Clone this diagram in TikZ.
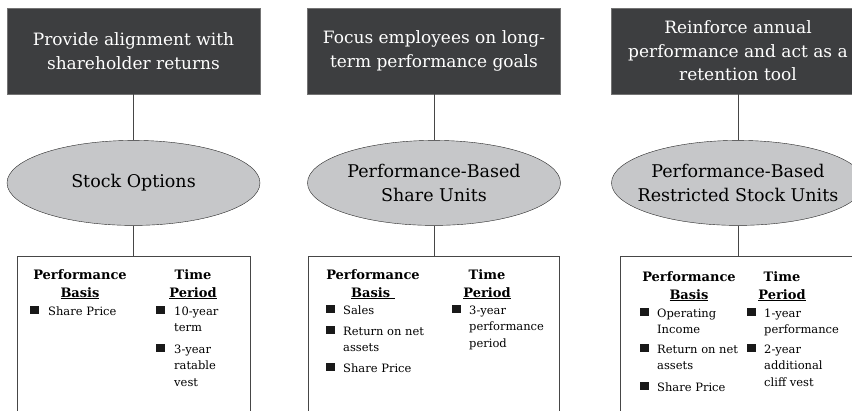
\documentclass[tikz,border=0pt]{standalone}
\usepackage{fontspec}
\setmainfont{DejaVu Serif}
\usetikzlibrary{positioning, shapes.geometric}

\definecolor{goalgray}{RGB}{61,62,64}
\definecolor{goaledge}{RGB}{115,115,115}
\definecolor{plangray}{RGB}{198,199,201}
\definecolor{linegray}{RGB}{70,70,70}

% stacked lines whose baseline is the first line
\newcommand{\headlines}[1]{\begin{tabular}[t]{@{}c@{}}#1\end{tabular}}
\newcommand{\itemlines}[1]{\begin{tabular}[t]{@{}l@{}}#1\end{tabular}}

\begin{document}
\begin{tikzpicture}[x=1pt, y=1pt]
	\tikzset{node distance=46pt,
		goal/.style={rectangle, draw=goaledge, fill=goalgray, text=white, minimum width=253pt, minimum height=86pt, align=center, font=\fontsize{17}{23.5}\selectfont},
		plan/.style={ellipse, draw=black!85, fill=plangray, inner xsep=-20pt, inner ysep=0pt, minimum width=253pt, minimum height=85pt, align=center, font=\fontsize{17.5}{23.5}\selectfont},
		detail/.style={rectangle, draw=linegray, minimum height=200pt},
		head/.style={anchor=base, inner sep=0pt, font=\fontsize{13}{18}\selectfont\bfseries},
		item/.style={anchor=base west, inner sep=0pt, font=\fontsize{11.5}{16.5}\selectfont},
		bullet/.style={rectangle, fill=black!90, inner sep=0pt, minimum size=8.5pt}
	}
	\useasboundingbox (0,0) rectangle (852,-410);
	\clip (0,0) rectangle (852,-410);

	\node[goal] (goal1) at (133.5,-51) {Provide alignment with\\shareholder returns};
	\node[goal] (goal2) at (434,-51) {Focus employees on long-\\term performance goals};
	\node[goal] (goal3) at (738,-51) {Reinforce annual\\performance and act as a\\retention tool};

	\node[plan, below=46pt of goal1] (plan1) {Stock Options};
	\node[plan, below=46pt of goal2] (plan2) {Performance-Based\\Share Units};
	\node[plan, below=46pt of goal3] (plan3) {Performance-Based\\Restricted Stock Units};

	\node[detail, minimum width=233pt, below=30pt of plan1] (detail1) {};
	\node[detail, minimum width=251pt, below=30pt of plan2] (detail2) {};
	\node[detail, minimum width=236pt, below=30pt of plan3] (detail3) {};

	\draw[linegray] (goal1) -- (plan1) -- (detail1);
	\draw[linegray] (goal2) -- (plan2) -- (detail2);
	\draw[linegray] (goal3) -- (plan3) -- (detail3);

	% stock options
	\node[head] (basis1) at (80,-279) {\headlines{Performance\\\underline{Basis}}};
	\node[head] (period1) at (193,-279) {\headlines{Time\\\underline{Period}}};
	\node[bullet] (b1a) at (34.5,-310) {};
	\node[item] (s1a) at (48,-315) {Share Price};
	\node[bullet] (b1b) at (160.5,-310) {};
	\node[item] (s1b) at (174,-315) {\itemlines{10-year\\term}};
	\node[bullet] (b1c) at (160.5,-348) {};
	\node[item] (s1c) at (174,-353) {\itemlines{3-year\\ratable\\vest}};

	% share units
	\node[head] (basis2) at (373,-279) {\headlines{Performance\\\underline{Basis~}}};
	\node[head] (period2) at (487,-279) {\headlines{Time\\\underline{Period}}};
	\node[bullet] (b2a) at (330.5,-309) {};
	\node[item] (s2a) at (343,-314) {Sales};
	\node[bullet] (b2b) at (330.5,-330) {};
	\node[item] (s2b) at (343,-335) {\itemlines{Return on net\\assets}};
	\node[bullet] (b2c) at (330.5,-367) {};
	\node[item] (s2c) at (343,-372) {Share Price};
	\node[bullet] (b2d) at (456.5,-309) {};
	\node[item] (s2d) at (469,-314) {\itemlines{3-year\\performance\\period}};

	% restricted stock units
	\node[head] (basis3) at (689,-281) {\headlines{Performance\\\underline{Basis}}};
	\node[head] (period3) at (782,-281) {\headlines{Time\\\underline{Period}}};
	\node[bullet] (b3a) at (644.5,-312) {};
	\node[item] (s3a) at (657,-317) {\itemlines{Operating\\Income}};
	\node[bullet] (b3b) at (644.5,-348) {};
	\node[item] (s3b) at (657,-353) {\itemlines{Return on net\\assets}};
	\node[bullet] (b3c) at (644.5,-386) {};
	\node[item] (s3c) at (657,-391) {Share Price};
	\node[bullet] (b3d) at (751.5,-312) {};
	\node[item] (s3d) at (764,-317) {\itemlines{1-year\\performance}};
	\node[bullet] (b3e) at (751.5,-348) {};
	\node[item] (s3e) at (764,-353) {\itemlines{2-year\\additional\\cliff vest}};
\end{tikzpicture}
\end{document}
